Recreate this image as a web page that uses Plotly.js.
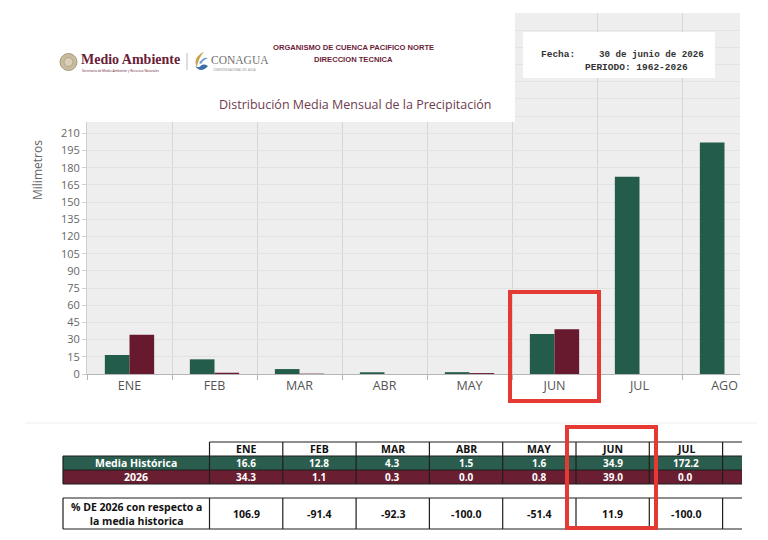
<!DOCTYPE html>
<html><head><meta charset="utf-8">
<script src="https://cdn.plot.ly/plotly-3.0.1.min.js"></script>
<style>html,body{margin:0;padding:0;background:#fff;overflow:hidden}</style>
</head><body><div id="chart" style="width:768px;height:540px"></div>
<script>
// ---------- DATA ----------
const months = ['ENE','FEB','MAR','ABR','MAY','JUN','JUL','AGO'];
const mediaHistorica = [16.6, 12.8, 4.3, 1.5, 1.6, 34.9, 172.2, 202.0];
const valores2026 = [34.3, 1.1, 0.3, 0.0, 0.8, 39.0, 0.0, 0.0];
const tableMonths = ['ENE','FEB','MAR','ABR','MAY','JUN','JUL'];
const tableMedia = [16.6, 12.8, 4.3, 1.5, 1.6, 34.9, 172.2];
const table2026 = [34.3, 1.1, 0.3, 0.0, 0.8, 39.0, 0.0];
const tablePct = [106.9, -91.4, -92.3, -100.0, -51.4, 11.9, -100.0];
const yTicks = [0,15,30,45,60,75,90,105,120,135,150,165,180,195,210,225,240,255,270,285,300,315];

// ---------- GEOMETRY (pixels -> paper) ----------
const L = 87, R = 740, T = 13, B = 374;
const X = p => (p - L) / (R - L);
const Y = p => (B - p) / (B - T);

const GREEN = '#245c4c', MAROON = '#671a2e';
const TGREEN = '#2a5d4e', TMAROON = '#6a1e31';
const shapes = [];
const ann = [];

function rect(x0, y0, x1, y1, fill, lineColor, lw, layer) {
  shapes.push({type:'rect', xref:'paper', yref:'paper', x0:X(x0), x1:X(x1), y0:Y(y1), y1:Y(y0),
    fillcolor: fill || 'rgba(0,0,0,0)', line:{color: lineColor || 'rgba(0,0,0,0)', width: lw || 0}, layer: layer || 'above'});
}
function line(x0, y0, x1, y1, color, lw) {
  shapes.push({type:'line', xref:'paper', yref:'paper', x0:X(x0), x1:X(x1), y0:Y(y0), y1:Y(y1),
    line:{color: color, width: lw}, layer:'above'});
}
function path(pts, fill) {
  let s = '';
  pts.forEach(p => {
    if (typeof p === 'string') { s += p + ' '; }
    else { s += X(p[0]) + ',' + Y(p[1]) + ' '; }
  });
  shapes.push({type:'path', xref:'paper', yref:'paper', path: s + 'Z', fillcolor: fill, line:{width:0}, layer:'above'});
}
function text(t, x, y, size, color, opts) {
  opts = opts || {};
  ann.push(Object.assign({text: t, xref:'paper', yref:'paper', x: X(x), y: Y(y), showarrow:false,
    xanchor: opts.xanchor || 'center', yanchor:'middle',
    font:{family: opts.family || 'Open Sans, sans-serif', size: size, color: color}}, opts.extra || {}));
}

// ---------- HEADER OVERLAY ----------
rect(-5, -5, 515, 122, '#ffffff');
// seal
shapes.push({type:'circle', xref:'paper', yref:'paper', x0:X(60), x1:X(77), y0:Y(70.5), y1:Y(53.5),
  fillcolor:'#c9bc9e', line:{color:'#a89a7c', width:1}, layer:'above'});
shapes.push({type:'circle', xref:'paper', yref:'paper', x0:X(64), x1:X(73), y0:Y(66.5), y1:Y(57.5),
  fillcolor:'#d9cfb6', line:{color:'#9e8f70', width:0.6}, layer:'above'});
text('<b>Medio Ambiente</b>', 79, 59.5, 14, '#6b1d38', {xanchor:'left', family:'Liberation Serif, serif'});
text('Secretaría de Medio Ambiente y Recursos Naturales', 80, 70.5, 3.2, '#6b1d38', {xanchor:'left'});
line(187, 53, 187, 70, '#bbbbbb', 1);
// CONAGUA icon
path(['M', [204, 51.5], 'Q', [192, 58], [197, 67], 'Q', [198, 59], [204, 51.5]], '#c8a24e');
path(['M', [195, 66], 'Q', [201, 74], [208, 66], 'Q', [203, 63], [200, 66.5], 'Q', [198, 68], [195, 66]], '#3b6fa6');
path(['M', [199, 63], 'Q', [203, 57], [208, 58], 'Q', [203, 60], [201, 64], [199, 63]], '#6f9dcc');
text('CONAGUA', 208.5, 60, 11.5, '#707070', {xanchor:'left', family:'Liberation Serif, serif'});
text('COMISIÓN NACIONAL DEL AGUA', 211, 69.5, 2.8, '#888888', {xanchor:'left'});
text('<b>ORGANISMO DE CUENCA PACIFICO NORTE</b>', 353, 48, 7.6, '#6b1d38', {family:'Liberation Sans Narrow, Liberation Sans, sans-serif'});
text('<b>DIRECCION TECNICA</b>', 353, 59.5, 7.6, '#6b1d38', {family:'Liberation Sans Narrow, Liberation Sans, sans-serif'});
text('Distribución Media Mensual de la Precipitación', 355, 104, 12.5, '#6e3d4d');

// Fecha box
rect(523, 32, 715, 78, '#ffffff');
text('<b>Fecha:</b>', 539, 54, 9.5, '#333333', {xanchor:'left', family:'Liberation Mono, monospace'});
text('<b>30 de junio de 2026</b>', 706, 54, 9.2, '#333333', {xanchor:'right', family:'Liberation Mono, monospace'});
text('<b>PERIODO: 1962-2026</b>', 690, 67.5, 9.5, '#333333', {xanchor:'right', family:'Liberation Mono, monospace'});

// y axis title
text('Milimetros', 38, 170, 12, '#666666', {extra:{textangle:-90}});

// faint separator line
line(25, 423, 757, 423, '#eeeeee', 1);

// ---------- TABLE ----------
const c0 = 63, c1 = 209.5, cw = 73.3, cEnd = 742;
const colX = i => c1 + i * cw;
const rH0 = 442, rH1 = 456, rG1 = 470, rM1 = 484, rP0 = 498, rP1 = 529;
const TL = '#1e1e1e', TW = 1.2;
rect(c0, rH1, cEnd, rG1, TGREEN);
rect(c0, rG1, cEnd, rM1, TMAROON);
line(c1, rH0, cEnd, rH0, TL, TW);
line(c0, rH1, cEnd, rH1, TL, TW);
line(c0, rG1, cEnd, rG1, TL, TW);
line(c0, rM1, cEnd, rM1, TL, TW);
line(c0, rP0, cEnd, rP0, TL, TW);
line(c0, rP1, cEnd, rP1, TL, TW);
line(c0, rH1, c0, rM1, TL, TW);
line(c0, rP0, c0, rP1, TL, TW);
for (let i = 0; i <= tableMonths.length; i++) {
  line(colX(i), rH0, colX(i), rM1, TL, TW);
  line(colX(i), rP0, colX(i), rP1, TL, TW);
}
const TF = 'Open Sans, sans-serif';
text('<b>Media Histórica</b>', (c0 + c1) / 2, (rH1 + rG1) / 2, 10.5, '#ffffff', {family:TF});
text('<b>2026</b>', (c0 + c1) / 2, (rG1 + rM1) / 2, 10.5, '#ffffff', {family:TF});
text('<b>% DE 2026 con respecto a<br>la media historica</b>', (c0 + c1) / 2, (rP0 + rP1) / 2, 10.5, '#111111', {family:TF});
tableMonths.forEach((m, i) => {
  const cx = colX(i) + cw / 2;
  text('<b>' + m + '</b>', cx, (rH0 + rH1) / 2, 10.5, '#111111', {family:TF});
  text('<b>' + tableMedia[i].toFixed(1) + '</b>', cx, (rH1 + rG1) / 2, 10, '#ffffff', {family:TF});
  text('<b>' + table2026[i].toFixed(1) + '</b>', cx, (rG1 + rM1) / 2, 10, '#ffffff', {family:TF});
  text('<b>' + tablePct[i].toFixed(1) + '</b>', cx, (rP0 + rP1) / 2, 10.5, '#111111', {family:TF});
});

// ---------- RED HIGHLIGHT BOXES ----------
rect(510, 292, 599, 401, null, '#e53a33', 4);
rect(567, 427, 656, 528, null, '#e53a33', 4);

// ---------- TRACES ----------
const traces = [
  {type:'bar', x: months, y: mediaHistorica, name:'Media Histórica',
   marker:{color: GREEN, line:{width:0}}, hoverinfo:'skip'},
  {type:'bar', x: months, y: valores2026, name:'2026',
   marker:{color: MAROON, line:{width:0}}, hoverinfo:'skip'}
];

const layout = {
  width: 768, height: 540,
  margin: {l: L, r: 768 - R, t: T, b: 540 - B, pad: 0},
  paper_bgcolor: '#ffffff', plot_bgcolor: '#eeeeee',
  showlegend: false,
  barmode: 'group', bargap: 0.42, bargroupgap: 0,
  font: {family: 'Open Sans, sans-serif'},
  xaxis: {type:'category', categoryarray: months, range: [-0.5, (R - L) / 85 - 0.5],
    tickson: 'boundaries', showgrid: true, gridcolor: '#d6d6d6', gridwidth: 1,
    ticks: 'outside', ticklen: 5, tickcolor: '#b5b5b5',
    showline: true, linecolor: '#b5b5b5', linewidth: 1,
    tickfont: {size: 12.5, color: '#555555'}, fixedrange: true, zeroline: false},
  yaxis: {range: [0, 315], tickvals: yTicks, showgrid: true, gridcolor: '#e2e2e2', gridwidth: 1,
    ticks: 'outside', ticklen: 4, tickcolor: '#d0d0d0',
    showline: true, linecolor: '#cfcfcf', linewidth: 1, zeroline: false,
    tickfont: {size: 11, color: '#666666'}, fixedrange: true},
  shapes: shapes,
  annotations: ann
};

Plotly.newPlot('chart', traces, layout, {displayModeBar: false, staticPlot: true});
</script></body></html>
